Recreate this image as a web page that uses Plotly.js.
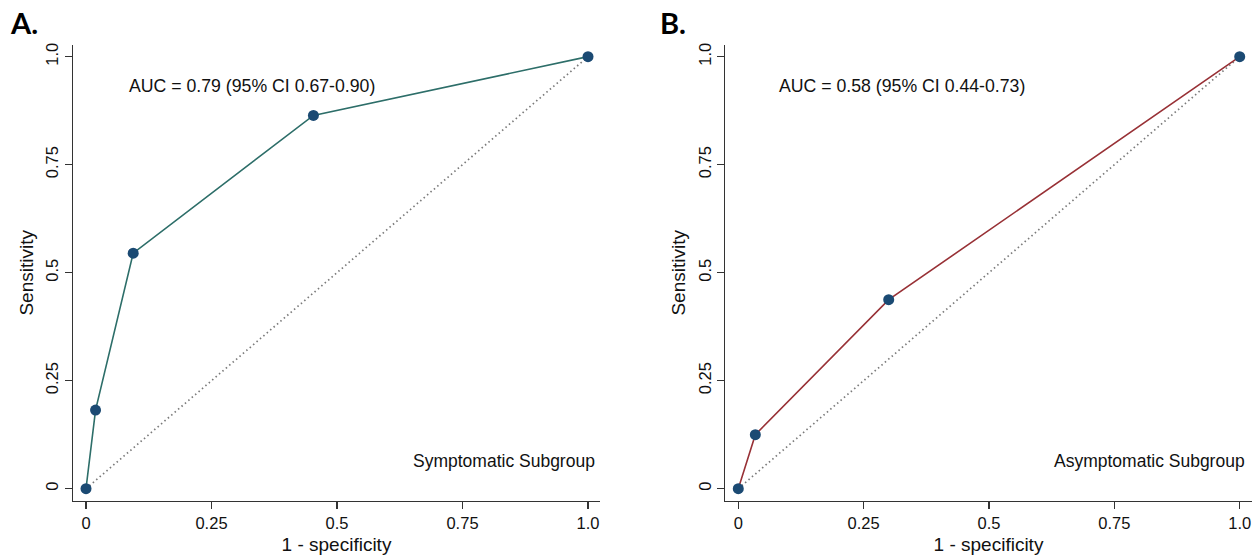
<!DOCTYPE html>
<html>
<head>
<meta charset="utf-8">
<script src="https://cdn.plot.ly/plotly-3.0.1.min.js"></script>
<style>html,body{margin:0;padding:0;background:#fff;}#chart{width:1260px;height:558px;}</style>
</head>
<body>
<div id="chart"></div>
<script>
// Data
const symptomaticFPR = [0, 0.019, 0.094, 0.453, 1];
const symptomaticTPR = [0, 0.182, 0.545, 0.864, 1];
const asymptomaticFPR = [0, 0.034, 0.300, 1];
const asymptomaticTPR = [0, 0.125, 0.4375, 1];
const referenceLine = [0, 1];
const tickValues = [0, 0.25, 0.5, 0.75, 1];
const tickLabels = ["0", "0.25", "0.5", "0.75", "1.0"];
const aucTexts = ["AUC = 0.79 (95% CI 0.67-0.90)", "AUC = 0.58 (95% CI 0.44-0.73)"];
const groupNames = ["Symptomatic Subgroup", "Asymptomatic Subgroup"];
const panelLabels = ["A.", "B."];

const FONT = "Liberation Sans, Arial, Helvetica, sans-serif";
const markerColor = "#1b4a73";

const refLine = {color: "#7a7a7a", width: 1.7, dash: "1.5px,3px"};
const traces = [
  {x: referenceLine, y: referenceLine, xaxis: "x", yaxis: "y", mode: "lines",
   line: refLine, hoverinfo: "skip"},
  {x: symptomaticFPR, y: symptomaticTPR, xaxis: "x", yaxis: "y", mode: "lines+markers",
   line: {color: "#2d6e69", width: 1.6}, marker: {color: markerColor, size: 11}},
  {x: referenceLine, y: referenceLine, xaxis: "x2", yaxis: "y2", mode: "lines",
   line: refLine, hoverinfo: "skip"},
  {x: asymptomaticFPR, y: asymptomaticTPR, xaxis: "x2", yaxis: "y2", mode: "lines+markers",
   line: {color: "#983136", width: 1.6}, marker: {color: markerColor, size: 11}}
];

function xAxis(domain) {
  return {
    domain: domain, range: [-0.0259, 1.0239], showgrid: false, zeroline: false,
    showline: true, linecolor: "#333", linewidth: 1.2, ticks: "outside", ticklen: 7,
    tickcolor: "#333", tickwidth: 1.2, tickvals: tickValues, ticktext: tickLabels,
    tickfont: {family: FONT, size: 16.5, color: "#111"},
    title: {text: "1 - specificity", font: {family: FONT, size: 19, color: "#111"}, standoff: 7},
    fixedrange: true
  };
}
function yAxis(domain, anchor) {
  return {
    domain: domain, anchor: anchor, range: [-0.0278, 1.027], showgrid: false, zeroline: false,
    showline: true, linecolor: "#333", linewidth: 1.2, ticks: "outside", ticklen: 7,
    tickcolor: "#333", tickwidth: 1.2, tickvals: tickValues, ticktext: tickLabels,
    tickangle: -90, tickfont: {family: FONT, size: 16.5, color: "#111"},
    title: {text: "Sensitivity", font: {family: FONT, size: 19, color: "#111"}, standoff: 4},
    fixedrange: true
  };
}

const yDom = [0.1027, 0.9194];
const layout = {
  width: 1260, height: 558,
  margin: {l: 0, r: 0, t: 0, b: 0},
  paper_bgcolor: "#fff", plot_bgcolor: "#fff",
  showlegend: false,
  xaxis: Object.assign(xAxis([0.05794, 0.47619]), {anchor: "y"}),
  yaxis: yAxis(yDom, "x"),
  xaxis2: Object.assign(xAxis([0.57563, 0.99341]), {anchor: "y2"}),
  yaxis2: yAxis(yDom, "x2"),
  annotations: [
    {xref: "x", yref: "y", x: 0.081, y: 0.933, text: aucTexts[0], showarrow: false,
     xanchor: "left", yanchor: "middle", font: {family: FONT, size: 17.7, color: "#111"}},
    {xref: "x2", yref: "y2", x: 0.078, y: 0.933, text: aucTexts[1], showarrow: false,
     xanchor: "left", yanchor: "middle", font: {family: FONT, size: 17.7, color: "#111"}},
    {xref: "x", yref: "y", x: 1.018, y: 0.065, text: groupNames[0], showarrow: false,
     xanchor: "right", yanchor: "middle", font: {family: FONT, size: 17.5, color: "#111"}},
    {xref: "x2", yref: "y2", x: 1.015, y: 0.063, text: groupNames[1], showarrow: false,
     xanchor: "right", yanchor: "middle", font: {family: FONT, size: 17.5, color: "#111"}},
    {xref: "paper", yref: "paper", x: 0.006, y: 0.96, text: "<b>" + panelLabels[0] + "</b>", showarrow: false,
     xanchor: "left", yanchor: "middle", font: {family: "Lato, Open Sans, sans-serif", size: 29, color: "#000"}},
    {xref: "paper", yref: "paper", x: 0.522, y: 0.96, text: "<b>" + panelLabels[1] + "</b>", showarrow: false,
     xanchor: "left", yanchor: "middle", font: {family: "Lato, Open Sans, sans-serif", size: 29, color: "#000"}}
  ]
};

Plotly.newPlot("chart", traces, layout, {displayModeBar: false, staticPlot: true});
</script>
</body>
</html>
